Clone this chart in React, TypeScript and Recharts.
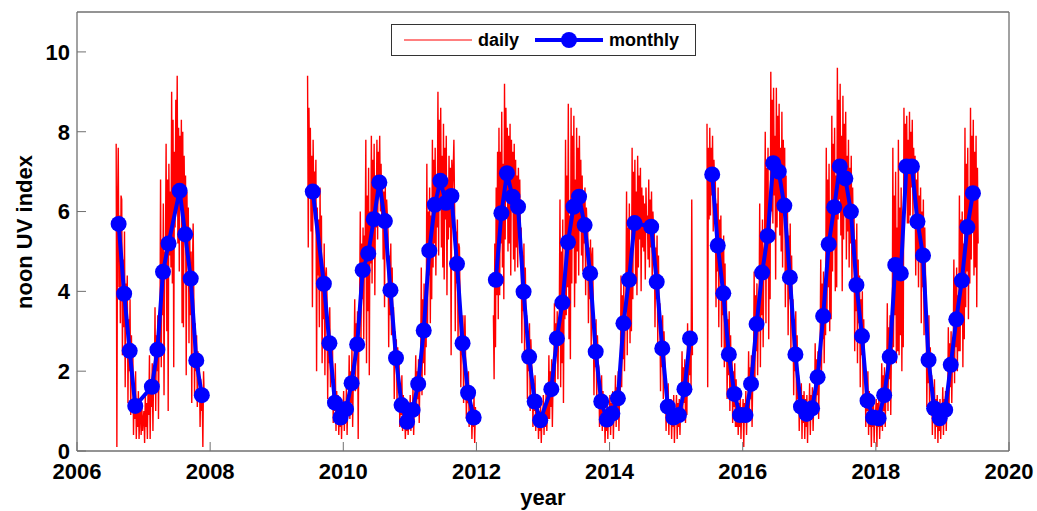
import React from 'react';
import { LineChart, Line, XAxis, YAxis } from 'recharts';

// daily noon UV index at ~8 readings per month (one row per month)
const daily2006Start = 2006 + 7 / 12; // Aug 2006
const daily2006 = [
  [7.7, 0.1, 6.2, 7.6, 4.1, 5.9, 3.2, 6.4],
  [6.3, 2.4, 4.8, 3.1, 5.5, 1.6, 4.2, 3.6],
  [4.4, 1.2, 3.3, 2.0, 3.8, 0.9, 2.9, 1.7],
  [2.6, 0.4, 1.6, 0.8, 2.0, 0.3, 1.3, 0.6],
  [1.5, 0.3, 0.9, 1.2, 0.4, 1.1, 0.5, 0.8],
  [1.0, 0.2, 1.4, 0.6, 1.2, 0.3, 1.6, 0.9],
  [2.4, 0.3, 1.8, 1.1, 2.2, 0.5, 2.0, 1.6],
  [3.6, 1.0, 2.9, 2.0, 3.4, 0.8, 3.1, 2.5],
  [6.8, 2.1, 5.3, 3.4, 6.2, 1.4, 5.0, 4.9],
  [7.7, 3.0, 6.8, 1.0, 7.2, 4.9, 6.5, 4.6],
  [9.0, 4.2, 8.3, 2.1, 7.5, 5.6, 8.8, 6.3],
  [9.4, 5.2, 8.1, 4.5, 7.9, 6.1, 8.3, 3.2],
  [8.0, 3.1, 7.4, 5.4, 6.9, 1.9, 6.5, 4.8],
  [6.1, 2.7, 5.6, 3.4, 5.0, 1.2, 4.6, 5.7],
  [3.8, 1.4, 3.2, 2.0, 2.9, 1.1, 2.5, 1.7],
  [2.1, 0.6, 1.8, 1.0, 1.5, 0.1, 2.0, 1.3],
];

const daily2009Start = 2009 + 5.5 / 12; // mid Jun 2009
const daily2009 = [
  [9.4, 5.1, 8.6, 6.6],
  [8.1, 5.5, 7.4, 3.6, 7.8, 6.2, 7.0, 5.9],
  [7.3, 2.0, 6.1, 4.4, 5.8, 3.1, 6.6, 4.0],
  [5.9, 2.2, 4.6, 3.3, 5.2, 1.9, 4.4, 4.6],
  [3.9, 1.3, 3.1, 2.2, 3.6, 1.6, 2.8, 2.5],
  [2.6, 0.7, 1.8, 1.0, 2.2, 0.5, 1.5, 0.9],
  [1.4, 0.4, 1.0, 0.6, 1.3, 0.3, 1.1, 0.7],
  [1.5, 0.5, 1.2, 0.7, 1.6, 0.4, 1.3, 1.0],
  [2.4, 0.8, 2.0, 1.2, 2.6, 0.6, 1.9, 2.1],
  [3.8, 1.5, 3.2, 2.4, 3.5, 0.3, 3.0, 3.6],
  [6.0, 2.6, 5.2, 3.8, 5.6, 2.8, 5.4, 4.8],
  [7.8, 2.2, 6.4, 3.5, 7.1, 1.9, 6.0, 4.7],
  [7.9, 4.2, 7.3, 5.0, 7.7, 3.9, 6.9, 5.6],
  [7.8, 5.3, 7.5, 6.4, 7.9, 6.0, 7.2, 5.8],
  [6.9, 4.8, 6.5, 3.6, 6.7, 5.2, 6.3, 5.9],
  [5.5, 2.6, 4.9, 3.4, 5.2, 2.9, 4.6, 3.2],
  [3.6, 1.3, 3.0, 2.1, 2.8, 1.2, 2.6, 2.0],
  [2.2, 0.6, 1.6, 0.9, 1.9, 0.5, 1.4, 0.8],
  [1.1, 0.3, 0.9, 0.5, 1.2, 0.4, 0.8, 0.6],
  [1.4, 0.5, 1.1, 0.7, 1.6, 0.4, 1.2, 1.3],
  [2.4, 0.9, 2.0, 1.3, 2.3, 0.7, 1.9, 1.9],
  [4.6, 1.4, 3.8, 2.2, 4.2, 1.9, 3.5, 2.6],
  [7.2, 3.1, 6.0, 4.4, 6.6, 3.2, 5.9, 3.8],
  [7.8, 4.6, 7.3, 5.2, 7.6, 4.4, 6.8, 5.6],
  [9.0, 4.9, 8.3, 6.2, 8.6, 5.1, 7.4, 4.6],
  [8.2, 4.3, 7.6, 5.8, 7.9, 3.9, 6.8, 5.3],
  [7.4, 5.6, 7.1, 2.4, 7.3, 6.5, 7.0, 7.8],
  [6.1, 3.0, 5.5, 4.2, 5.8, 2.6, 5.2, 5.1],
  [3.6, 1.6, 3.2, 2.4, 3.4, 1.2, 2.8, 3.4],
  [2.2, 0.8, 1.8, 1.2, 2.0, 0.6, 1.6, 1.5],
  [1.3, 0.3, 1.0, 0.6, 1.4, 0.2, 1.1, 0.8],
];

const daily2012Start = 2012 + 3 / 12; // Apr 2012
const daily2012 = [
  [3.4, 1.8, 5.2, 2.6, 6.6, 3.9, 7.5, 3.3],
  [8.1, 3.9, 7.5, 5.2, 8.5, 4.6, 7.2, 3.8],
  [9.2, 5.3, 8.6, 6.4, 8.1, 5.0, 7.9, 5.2],
  [8.2, 4.4, 7.8, 6.1, 7.5, 4.8, 7.7, 4.5],
  [7.3, 5.1, 6.9, 4.6, 7.1, 6.0, 6.8, 5.2],
  [5.6, 2.7, 4.9, 3.5, 5.2, 2.2, 4.6, 3.2],
  [3.4, 1.3, 3.0, 2.0, 3.2, 1.0, 2.8, 2.2],
  [2.0, 0.6, 1.7, 1.0, 1.9, 0.5, 1.4, 0.8],
  [1.3, 0.3, 1.0, 0.5, 1.2, 0.2, 0.9, 0.7],
  [1.4, 0.4, 1.1, 0.6, 1.5, 0.5, 1.2, 0.8],
  [2.4, 0.8, 2.0, 1.1, 2.3, 0.6, 1.8, 1.4],
  [3.7, 1.5, 3.2, 2.4, 3.5, 1.8, 3.1, 3.4],
  [6.3, 1.6, 5.0, 2.2, 5.8, 1.2, 4.4, 3.3],
  [7.8, 3.4, 6.9, 4.1, 8.7, 2.8, 5.9, 2.3],
  [8.6, 4.2, 7.9, 5.3, 8.4, 3.6, 6.8, 4.2],
  [8.1, 5.0, 7.6, 4.4, 7.9, 5.8, 7.3, 4.9],
  [6.9, 4.5, 6.4, 5.2, 6.6, 3.9, 6.1, 5.6],
  [5.6, 3.2, 5.1, 3.8, 5.3, 2.6, 4.9, 5.1],
  [3.6, 1.4, 3.2, 2.1, 3.3, 1.2, 2.9, 2.2],
  [2.1, 0.6, 1.7, 0.9, 1.9, 0.5, 1.5, 0.7],
  [1.2, 0.2, 1.0, 0.5, 1.3, 0.3, 1.1, 0.7],
  [1.4, 0.4, 1.2, 0.7, 1.5, 0.3, 1.2, 0.8],
  [1.9, 0.6, 1.6, 1.0, 2.0, 0.5, 1.5, 1.5],
  [4.4, 1.6, 3.9, 2.3, 4.2, 2.0, 3.6, 3.6],
  [6.5, 2.4, 5.6, 3.1, 6.2, 2.7, 4.8, 3.0],
  [7.6, 3.8, 7.0, 5.4, 7.3, 4.2, 6.5, 3.9],
  [7.4, 4.6, 6.9, 5.3, 7.1, 4.0, 6.6, 5.1],
  [6.4, 5.0, 6.2, 4.3, 6.6, 5.5, 5.9, 4.8],
  [6.8, 4.6, 6.3, 5.1, 6.5, 4.2, 6.0, 5.5],
  [5.6, 3.1, 5.1, 3.8, 5.4, 2.7, 4.9, 3.3],
  [3.7, 1.5, 3.2, 2.1, 3.4, 1.3, 3.0, 2.4],
  [1.9, 0.5, 1.6, 0.8, 1.7, 0.4, 1.3, 0.7],
  [1.3, 0.3, 1.1, 0.6, 1.4, 0.2, 1.0, 0.8],
  [1.4, 0.3, 1.2, 0.6, 1.3, 0.4, 1.1, 0.9],
  [2.5, 0.9, 2.1, 1.2, 2.3, 0.7, 1.8, 0.9],
  [3.2, 1.4, 2.8, 1.9, 3.0, 1.6, 6.3, 2.4],
];

const daily2015Start = 2015 + 5.5 / 12; // mid Jun 2015
const daily2015 = [
  [8.2, 1.6, 7.6, 5.8],
  [8.1, 5.9, 7.6, 6.4, 7.9, 5.5, 7.3, 6.7],
  [6.9, 3.6, 6.2, 4.5, 6.6, 3.1, 5.8, 4.5],
  [5.9, 2.6, 5.1, 3.4, 5.4, 2.1, 4.7, 2.4],
  [3.9, 1.3, 3.3, 1.9, 3.5, 1.0, 2.9, 1.6],
  [2.4, 0.7, 2.0, 1.1, 2.2, 0.6, 1.8, 0.6],
  [1.5, 0.4, 1.2, 0.6, 1.4, 0.3, 1.1, 0.7],
  [1.3, 0.1, 1.2, 0.7, 1.5, 0.4, 1.2, 0.8],
  [2.5, 0.8, 2.1, 1.3, 2.4, 0.6, 1.9, 1.8],
  [4.5, 1.6, 3.9, 2.5, 4.2, 1.9, 3.6, 3.2],
  [6.2, 2.1, 5.5, 3.4, 5.8, 2.6, 5.0, 5.2],
  [8.0, 3.2, 7.1, 4.4, 7.6, 2.8, 6.2, 3.8],
  [9.5, 6.0, 8.8, 5.7, 9.1, 6.4, 7.9, 4.3],
  [9.1, 5.6, 8.4, 6.2, 8.7, 5.4, 7.6, 5.0],
  [8.5, 4.6, 7.8, 5.9, 7.6, 3.6, 6.9, 4.3],
  [6.2, 2.9, 5.4, 3.8, 5.7, 2.4, 4.9, 3.5],
  [3.8, 1.4, 3.3, 2.0, 3.5, 1.2, 2.9, 1.3],
  [1.9, 0.5, 1.6, 0.8, 1.7, 0.3, 1.4, 0.7],
  [1.5, 0.3, 1.3, 0.6, 1.4, 0.2, 1.2, 0.9],
  [1.7, 0.4, 1.4, 0.8, 1.6, 0.5, 1.3, 0.9],
  [2.7, 0.9, 2.3, 1.4, 2.5, 0.8, 2.0, 2.2],
  [4.8, 1.7, 4.2, 2.8, 4.5, 2.2, 3.9, 2.9],
  [7.6, 3.4, 6.8, 4.1, 7.2, 3.0, 6.0, 3.3],
  [8.4, 4.5, 7.7, 5.2, 8.1, 4.0, 6.9, 4.1],
  [9.6, 5.8, 8.8, 6.3, 9.2, 5.4, 7.9, 4.0],
  [8.9, 5.3, 8.2, 6.0, 8.5, 4.8, 7.4, 5.5],
  [7.8, 4.6, 7.1, 5.2, 7.4, 4.0, 6.6, 5.3],
  [6.1, 2.5, 5.3, 3.5, 5.7, 2.2, 4.8, 3.2],
  [4.4, 1.6, 3.8, 2.4, 4.0, 1.4, 3.3, 2.1],
  [2.2, 0.6, 1.8, 1.0, 2.0, 0.4, 1.5, 0.6],
  [1.4, 0.1, 1.2, 0.6, 1.3, 0.2, 1.0, 0.9],
  [1.3, 0.1, 1.2, 0.6, 1.4, 0.3, 1.1, 0.6],
  [2.2, 0.5, 1.9, 1.0, 2.1, 0.6, 1.6, 1.3],
  [3.7, 1.0, 3.1, 1.8, 3.4, 0.9, 2.8, 2.2],
  [7.6, 2.6, 6.4, 3.4, 7.0, 2.2, 5.6, 2.5],
  [7.8, 2.4, 6.1, 2.9, 6.6, 2.0, 5.2, 2.6],
  [8.6, 6.1, 8.2, 6.5, 8.4, 5.7, 7.8, 5.7],
  [8.5, 5.9, 8.0, 6.6, 8.3, 5.8, 7.6, 6.3],
  [7.4, 4.4, 6.8, 5.0, 7.1, 4.1, 6.4, 4.8],
  [6.6, 3.2, 6.0, 4.1, 6.3, 2.9, 5.6, 4.5],
  [3.8, 1.1, 3.1, 1.7, 3.4, 0.9, 2.6, 1.6],
  [1.9, 0.4, 1.6, 0.7, 1.8, 0.3, 1.3, 0.6],
  [1.4, 0.2, 1.1, 0.5, 1.3, 0.3, 1.0, 0.8],
  [1.6, 0.4, 1.3, 0.7, 1.5, 0.5, 1.2, 1.0],
  [3.1, 1.0, 2.7, 1.6, 3.0, 1.2, 2.5, 2.2],
  [4.8, 1.7, 4.3, 2.6, 4.6, 2.0, 3.9, 2.5],
  [6.4, 2.5, 5.8, 3.4, 6.0, 2.1, 5.2, 2.8],
  [8.1, 3.6, 7.2, 4.5, 7.6, 3.3, 6.4, 4.2],
  [8.6, 4.8, 7.9, 5.6, 8.3, 4.4, 7.5, 4.6],
  [7.9, 3.6, 7.1, 5.2],
];

// monthly means, one value per month from the start month (null = no monthly value)
const monthly2006Start = 2006 + 7 / 12; // Aug 2006
const monthly2006 = [5.69, 3.94, 2.51, 1.13, null, null, 1.61, 2.54, 4.49, 5.2, null, 6.52, 5.43, 4.32, 2.27, 1.4];

const monthly2009Start = 2009 + 6 / 12; // Jul 2009
const monthly2009 = [
  6.5, null, 4.19, 2.7, 1.21, 0.84,
  1.05, 1.7, 2.67, 4.53, 4.95, 5.81, 6.73, 5.76, 4.03, 2.33, 1.15, 0.73,
  1.03, 1.68, 3.02, 5.02, 6.17, 6.77, 6.22, 6.39, 4.69, 2.7, 1.46, 0.84,
];

const monthly2012Start = 2012 + 3 / 12; // Apr 2012
const monthly2012 = [
  4.29, 5.96, 6.96, 6.37, 6.12, 3.99, 2.36, 1.24, 0.77,
  null, 1.55, 2.82, 3.72, 5.23, 6.12, 6.37, 5.66, 4.45, 2.49, 1.24, 0.79,
  0.94, 1.32, 3.2, 4.29, 5.71, null, null, 5.62, 4.24, 2.57, 1.11, 0.84,
  0.9, 1.55, 2.82,
];

const monthly2015Start = 2015 + 6 / 12; // Jul 2015
const monthly2015 = [
  6.93, 5.15, 3.95, 2.42, 1.43, 0.9,
  0.9, 1.68, 3.18, 4.47, 5.39, 7.21, 7.0, 6.15, 4.35, 2.42, 1.11, 0.93,
  1.07, 1.85, 3.38, 5.18, 6.11, 7.13, 6.83, 6.0, 4.16, 2.88, 1.26, 0.84,
  0.82, 1.4, 2.36, 4.66, 4.45, 7.13, 7.13, 5.75, 4.9, 2.28, 1.07, 0.82,
  1.03, 2.16, 3.3, 4.27, 5.61, 6.46,
];

const yearTicks = [2006, 2008, 2010, 2012, 2014, 2016, 2018, 2020];
const uvTicks = [0, 2, 4, 6, 8, 10];

type Pt = { x: number; y: number | null };

const dailySeg = (start: number, rows: number[][]): Pt[] =>
  rows.flat().map((v, i) => ({ x: start + (i + 0.5) / 96, y: v }));

const monthlySeg = (start: number, vals: (number | null)[]): Pt[] =>
  vals
    .map((v, i) => ({ x: start + (i + 0.5) / 12, y: v }))
    .filter((p) => p.y !== null);

// join segments with a null point so the line breaks across data gaps
const joinSegs = (segs: Pt[][]): Pt[] => {
  const out: Pt[] = [];
  segs.forEach((s, k) => {
    if (k > 0) out.push({ x: s[0].x - 0.001, y: null });
    out.push(...s);
  });
  return out;
};

const dailyData = joinSegs([
  dailySeg(daily2006Start, daily2006),
  dailySeg(daily2009Start, daily2009),
  dailySeg(daily2012Start, daily2012),
  dailySeg(daily2015Start, daily2015),
]);

const monthlyData = joinSegs([
  monthlySeg(monthly2006Start, monthly2006),
  monthlySeg(monthly2009Start, monthly2009),
  monthlySeg(monthly2012Start, monthly2012),
  monthlySeg(monthly2015Start, monthly2015),
]);

const FONT = '"Liberation Sans", Arial, sans-serif';
const FRAME = '#707070';
const tickStyle = { fill: '#000', fontSize: 22, fontWeight: 700, fontFamily: FONT };

export default function App() {
  return (
    <div style={{ position: 'absolute', left: 0, top: 0, width: 1037, height: 511, overflow: 'hidden', background: '#fff' }}>
      <LineChart width={1037} height={511} margin={{ top: 2, right: 18, bottom: 0, left: 0 }}>
        <XAxis
          xAxisId={0}
          dataKey="x"
          type="number"
          domain={[2006, 2020]}
          allowDataOverflow
          ticks={yearTicks}
          height={60}
          tickSize={-9}
          tickMargin={21}
          tick={tickStyle}
          axisLine={{ stroke: FRAME, strokeWidth: 1.3 }}
          tickLine={{ stroke: FRAME }}
        />
        <XAxis
          xAxisId="top"
          orientation="top"
          dataKey="x"
          type="number"
          domain={[2006, 2020]}
          allowDataOverflow
          ticks={yearTicks}
          height={10}
          tickSize={-9}
          tick={false}
          axisLine={{ stroke: FRAME, strokeWidth: 1.3 }}
          tickLine={{ stroke: FRAME }}
        />
        <YAxis
          yAxisId={0}
          type="number"
          domain={[0, 11]}
          allowDataOverflow
          ticks={uvTicks}
          width={77}
          tickSize={-9}
          tickMargin={16}
          tick={tickStyle}
          axisLine={{ stroke: FRAME, strokeWidth: 1.3 }}
          tickLine={{ stroke: FRAME }}
        />
        <YAxis
          yAxisId="right"
          orientation="right"
          type="number"
          domain={[0, 11]}
          allowDataOverflow
          ticks={uvTicks}
          width={10}
          tickSize={-9}
          tick={false}
          axisLine={{ stroke: FRAME, strokeWidth: 1.3 }}
          tickLine={{ stroke: FRAME }}
        />
        <Line
          data={dailyData}
          dataKey="y"
          xAxisId={0}
          yAxisId={0}
          stroke="#ff0000"
          strokeWidth={1.4}
          dot={false}
          activeDot={false}
          connectNulls={false}
          isAnimationActive={false}
        />
        <Line
          data={monthlyData}
          dataKey="y"
          xAxisId={0}
          yAxisId={0}
          stroke="#0000ff"
          strokeWidth={4}
          dot={{ r: 8, fill: '#0000ff', stroke: 'none' }}
          activeDot={false}
          connectNulls={false}
          isAnimationActive={false}
        />
      </LineChart>
      <svg
        width={1037}
        height={511}
        style={{ position: 'absolute', left: 0, top: 0, pointerEvents: 'none' }}
        fontFamily={FONT}
        fontWeight={700}
      >
        <text x={32} y={232} fontSize={22} textAnchor="middle" transform="rotate(-90 32 232)">
          noon UV index
        </text>
        <text x={543} y={505} fontSize={22} textAnchor="middle">
          year
        </text>
        <rect x={391.5} y={24.5} width={304} height={31} fill="#fff" stroke="#333" strokeWidth={1} />
        <line x1={404} y1={40} x2={472} y2={40} stroke="#ff0000" strokeWidth={1} />
        <text x={478} y={46} fontSize={18}>daily</text>
        <line x1={535} y1={40} x2={603} y2={40} stroke="#0000ff" strokeWidth={4} />
        <circle cx={569} cy={40} r={8} fill="#0000ff" />
        <text x={609} y={46} fontSize={18}>monthly</text>
      </svg>
    </div>
  );
}
